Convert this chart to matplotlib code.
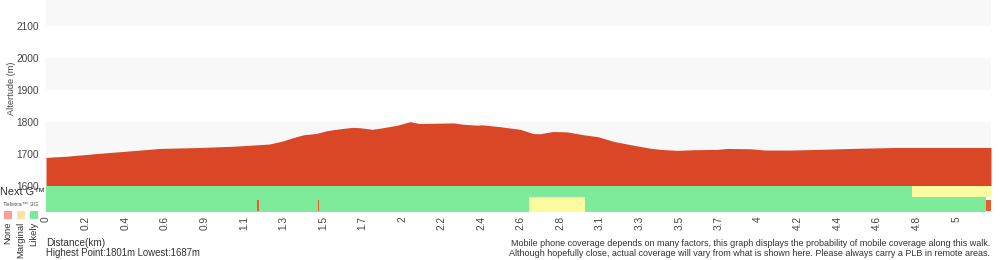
import matplotlib
matplotlib.use('Agg')
import matplotlib.pyplot as plt

plt.rcParams['font.family'] = ['Liberation Sans', 'DejaVu Sans']

# elevation profile (km, m)
dist_km = [0.0, 0.12, 0.30, 0.48, 0.63, 0.85, 1.04, 1.13, 1.24, 1.31, 1.39, 1.43,
           1.50, 1.56, 1.65, 1.70, 1.74, 1.81, 1.87, 1.95, 2.02, 2.07, 2.17, 2.26,
           2.31, 2.39, 2.42, 2.52, 2.63, 2.70, 2.74, 2.81, 2.89, 2.98, 3.06, 3.15,
           3.26, 3.35, 3.41, 3.50, 3.59, 3.72, 3.78, 3.91, 3.99, 4.13, 4.28, 4.46,
           4.70, 5.01, 5.242]
altitude = [1688, 1692, 1701, 1709, 1716, 1719, 1723, 1726, 1730, 1739, 1753, 1759,
            1763, 1772, 1779, 1782, 1781, 1776, 1781, 1789, 1800, 1794, 1795, 1796,
            1792, 1789, 1790, 1784, 1776, 1763, 1762, 1769, 1768, 1759, 1753, 1738,
            1726, 1717, 1713, 1710, 1712, 1713, 1716, 1715, 1711, 1711, 1713, 1716,
            1719, 1719, 1719]

tick_labels = ['0', '0.2', '0.4', '0.6', '0.9', '1.1', '1.3', '1.5', '1.7', '2',
               '2.2', '2.4', '2.6', '2.8', '3.1', '3.3', '3.5', '3.7', '4', '4.2',
               '4.4', '4.6', '4.8', '5']
tick_step = 0.2195

# coverage segments: (start km, end km, level)
nextg_segments = [(0.0, 4.804, 'Likely'), (4.804, 5.242, 'Marginal')]
g3_segments = [(0.0, 5.214, 'Likely'), (1.173, 1.179, 'None'), (1.511, 1.517, 'None'),
               (2.679, 2.990, 'Marginal'), (5.214, 5.242, 'None')]

highest, lowest = 1801, 1687

bar_colors = {'Likely': '#7deb9a', 'Marginal': '#fdfb9f', 'None': '#ea5c2b'}
legend_levels = ['None', 'Marginal', 'Likely']
legend_colors = ['#ff9c9c', '#ffe1a3', '#7de99a']

fig = plt.figure(figsize=(10, 2.6), dpi=100)
x_end = dist_km[-1]

# --- elevation axes ---
ax = fig.add_axes([0.046, 1 - 185.5 / 260, 0.945, 185.5 / 260])
ax.set_xlim(0, x_end)
ax.set_ylim(1600, 2181)
for lo in (1700, 1900, 2100):
    ax.axhspan(lo, lo + 100, color='#f8f8f8', lw=0, zorder=0)
ax.fill_between(dist_km, 1600, altitude, color='#d94727', lw=0, zorder=2)
ax.set_yticks([1600, 1700, 1800, 1900, 2000, 2100])
ax.tick_params(axis='y', length=0, labelsize=7.3, labelcolor='#444444', pad=5)
ax.set_xticks([])
for s in ax.spines.values():
    s.set_visible(False)
fig.text(0.012, 1 - 88 / 260, 'Altertude (m)', rotation=90, ha='center', va='center',
         fontsize=6.6, color='#444444')

# --- coverage axes ---
cax = fig.add_axes([0.046, 1 - 212 / 260, 0.945, 26.5 / 260])
cax.set_xlim(0, x_end)
cax.set_ylim(0, 26.5)
for start, end, level in nextg_segments:
    cax.barh(20.75, end - start, left=start, height=11.5, color=bar_colors[level], lw=0)
for start, end, level in g3_segments:
    if level == 'None':
        cax.barh(7, end - start, left=start, height=11, color=bar_colors[level], lw=0)
    else:
        cax.barh(7.5, end - start, left=start, height=15, color=bar_colors[level], lw=0)
cax.set_yticks([])
cax.set_xticks([i * tick_step for i in range(len(tick_labels))])
cax.set_xticklabels(tick_labels, rotation=90, fontsize=7.3, color='#444444')
cax.tick_params(axis='x', length=0, pad=3)
for s in cax.spines.values():
    s.set_visible(False)

fig.text(0.0, 1 - 192 / 260, 'Next G\u2122', ha='left', va='center', fontsize=7.8, color='#333333')
fig.text(0.003, 1 - 205 / 260, 'Telstra\u2122 3G', ha='left', va='center', fontsize=4.6,
         color='#555555')

# legend squares
for i, (lvl, col) in enumerate(zip(legend_levels, legend_colors)):
    x0 = (3.5 + i * 13) / 1000
    fig.patches.append(plt.Rectangle((x0, 1 - 219 / 260), 8.5 / 1000, 8.5 / 260,
                                     transform=fig.transFigure, facecolor=col,
                                     edgecolor='none'))
    fig.text(x0 + 4.3 / 1000, 1 - 222 / 260, lvl, rotation=90, ha='center', va='top',
             fontsize=6.8, color='#333333')

fig.text(0.046, 1 - 243 / 260, 'Distance(km)', ha='left', va='center', fontsize=7.2,
         color='#333333')
fig.text(0.046, 1 - 253 / 260, 'Highest Point:%dm Lowest:%dm' % (highest, lowest),
         ha='left', va='center', fontsize=6.9, color='#333333')
fig.text(0.990, 1 - 243 / 260,
         'Mobile phone coverage depends on many factors, this graph displays the probability of mobile coverage along this walk.',
         ha='right', va='center', fontsize=6.45, color='#333333')
fig.text(0.990, 1 - 253 / 260,
         'Although hopefully close, actual coverage will vary from what is shown here. Please always carry a PLB in remote areas.',
         ha='right', va='center', fontsize=6.45, color='#333333')

fig.savefig('out.png', dpi=100)
